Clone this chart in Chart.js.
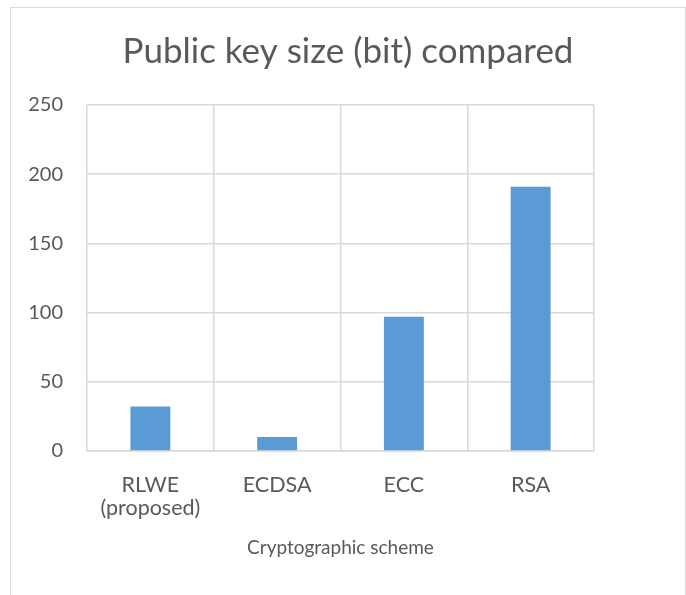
<!DOCTYPE html>
<html>
<head>
<meta charset="utf-8">
<script src="https://cdn.jsdelivr.net/npm/chart.js@4"></script>
<style>
  body { margin: 0; background: #fff; }
  #box {
    position: absolute; left: 10px; top: 7px;
    width: 674px; height: 600px;
    border: 1px solid #d9d9d9; border-bottom: none;
  }
</style>
</head>
<body>
<div id="box"><canvas id="stage" width="674" height="587"></canvas></div>
<script>
// data
const schemes = [['RLWE', '(proposed)'], 'ECDSA', 'ECC', 'RSA'];
const keySizes = [32, 10, 97, 191];
const yTicks = [0, 50, 100, 150, 200, 250];

const grey = '#595959';
const gridColor = '#d9d9d9';
const fontFamily = 'Lato, "Open Sans", sans-serif';

const ctx = document.getElementById('stage');
new Chart(ctx, {
  type: 'bar',
  data: {
    labels: schemes,
    datasets: [{
      label: 'Public key size',
      data: keySizes,
      backgroundColor: '#5b9bd5',
      barPercentage: 0.315,
      categoryPercentage: 1
    }]
  },
  options: {
    responsive: false,
    animation: false,
    layout: { padding: { top: 23, left: 17, right: 17, bottom: 36 } },
    plugins: {
      legend: { display: false },
      tooltip: { enabled: false },
      title: {
        display: true,
        text: 'Public key size (bit) compared',
        color: grey,
        font: { family: fontFamily, size: 35, weight: 'normal' },
        padding: { top: 0, bottom: 32 }
      }
    },
    scales: {
      x: {
        // invisible tick marks keep the labels away from the axis
        grid: { color: gridColor, lineWidth: 1.5, drawTicks: true, tickLength: 22, tickColor: 'rgba(0,0,0,0)' },
        border: { color: gridColor, width: 1.5 },
        ticks: {
          color: grey,
          font: { family: fontFamily, size: 21.5, lineHeight: 1.1 },
          padding: 0,
          maxRotation: 0
        },
        title: {
          display: true,
          text: 'Cryptographic scheme',
          color: grey,
          font: { family: fontFamily, size: 19 },
          padding: { top: 16, bottom: 0 }
        }
      },
      y: {
        min: 0,
        max: 250,
        afterBuildTicks: axis => { axis.ticks = yTicks.map(v => ({ value: v })); },
        grid: { color: gridColor, lineWidth: 1.5, drawTicks: false },
        border: { display: false },
        ticks: {
          color: grey,
          font: { family: fontFamily, size: 20 },
          padding: 24
        },
        // label column (~35px) plus the gap to the plot
        afterFit: axis => { axis.width = 59; }
      },
      // empty space on the right, like the Excel plot area
      yRight: {
        position: 'right',
        min: 0,
        max: 1,
        grid: { display: false },
        border: { display: false },
        ticks: { display: false },
        afterFit: axis => { axis.width = 74; }
      }
    }
  }
});
</script>
</body>
</html>
